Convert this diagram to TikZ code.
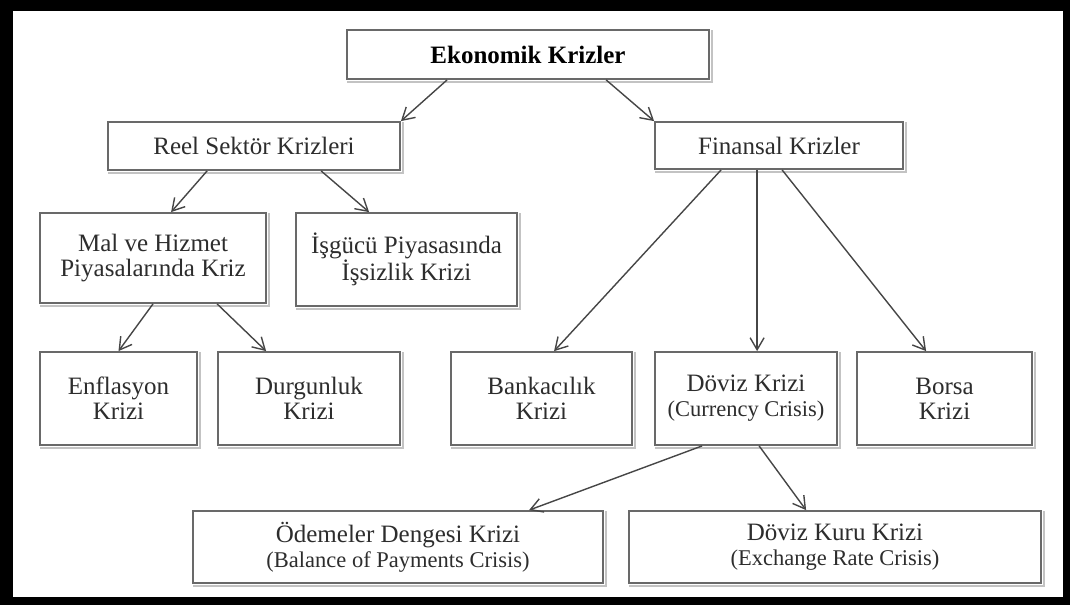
\documentclass[tikz,border=0pt]{standalone}
\usepackage{fontspec}
\setmainfont{Liberation Serif}
\usetikzlibrary{arrows.meta}
\definecolor{boxc}{RGB}{105,105,105}
\definecolor{shc}{RGB}{195,195,195}
\definecolor{linec}{RGB}{70,70,70}
\definecolor{textc}{RGB}{45,45,45}
\begin{document}
\begin{tikzpicture}[x=1pt,y=-1pt,
  box/.style={draw=boxc,line width=1.8pt,fill=white,text=textc,align=center,
    font=\fontsize{25}{25}\selectfont,inner sep=0pt},
  conn/.style={draw=linec,line width=1.4pt,
    -{Straight Barb[length=12pt,width=14pt,line width=1.4pt]}},
  shadowline/.style={draw=shc,line width=2pt}]
\useasboundingbox (0,0) rectangle (1070,605);
\fill[black] (0,0) rectangle (1070,605);
\fill[white] (13,11) rectangle (1063,597);

\node[box,minimum width=362pt,minimum height=49pt,text=black,font=\fontsize{25}{25}\selectfont\bfseries] (ek) at (528,54.5) {Ekonomik Krizler};
\node[box,minimum width=292pt,minimum height=48pt] (reel) at (254,146) {Reel Sektör Krizleri};
\node[box,minimum width=248pt,minimum height=47pt] (fin) at (779,145.5) {Finansal Krizler};
\node[box,minimum width=226pt,minimum height=90pt] (mal) at (153,258) {Mal ve Hizmet\\Piyasalarında Kriz};
\node[box,minimum width=221pt,minimum height=93pt] (isg) at (406.5,259.5) {İşgücü Piyasasında\\İşsizlik Krizi};
\node[box,minimum width=157pt,minimum height=93pt] (enf) at (118.5,398.5) {Enflasyon\\Krizi};
\node[box,minimum width=182pt,minimum height=93pt] (dur) at (309,398.5) {Durgunluk\\Krizi};
\node[box,minimum width=181pt,minimum height=93pt] (ban) at (541.5,398.5) {Bankacılık\\Krizi};
\node[box,minimum width=182pt,minimum height=93pt] (dov) at (746,398.5) {Döviz Krizi\\{\fontsize{22.5}{25}\selectfont(Currency Crisis)}};
\node[box,minimum width=175pt,minimum height=93pt] (bor) at (944.5,398.5) {Borsa\\Krizi};
\node[box,minimum width=410pt,minimum height=72pt] (ode) at (398,547) {Ödemeler Dengesi Krizi\\{\fontsize{22.5}{25}\selectfont(Balance of Payments Crisis)}};
\node[box,minimum width=412pt,minimum height=72pt] (kur) at (835,547) {Döviz Kuru Krizi\\{\fontsize{22.5}{25}\selectfont(Exchange Rate Crisis)}};

\foreach \n in {ek,reel,fin,mal,isg,enf,dur,ban,dov,bor,ode,kur}{
  \draw[shadowline] ([xshift=2.5pt,yshift=-1pt]\n.north east) -- ([xshift=2.5pt,yshift=-2.5pt]\n.south east) -- ([xshift=1pt,yshift=-2.5pt]\n.south west);
}

\draw[conn] ([xshift=101pt]ek.south west) -- (reel.north east);
\draw[conn] ([xshift=260pt]ek.south west) -- (fin.north west);
\draw[conn] ([xshift=100pt]reel.south west) -- ([xshift=132pt]mal.north west);
\draw[conn] ([xshift=214pt]reel.south west) -- ([xshift=74pt]isg.north west);
\draw[conn] (mal.south) -- (enf.north);
\draw[conn] ([xshift=178pt]mal.south west) -- ([xshift=49pt]dur.north west);
\draw[conn] ([xshift=67pt]fin.south west) -- ([xshift=104pt]ban.north west);
\draw[conn] ([xshift=103pt]fin.south west) -- ([xshift=103pt]dov.north west);
\draw[conn] ([xshift=128pt]fin.south west) -- ([xshift=70pt]bor.north west);
\draw[conn] ([xshift=48pt]dov.south west) -- ([xshift=337pt]ode.north west);
\draw[conn] ([xshift=105pt]dov.south west) -- ([xshift=178pt]kur.north west);
\end{tikzpicture}
\end{document}
